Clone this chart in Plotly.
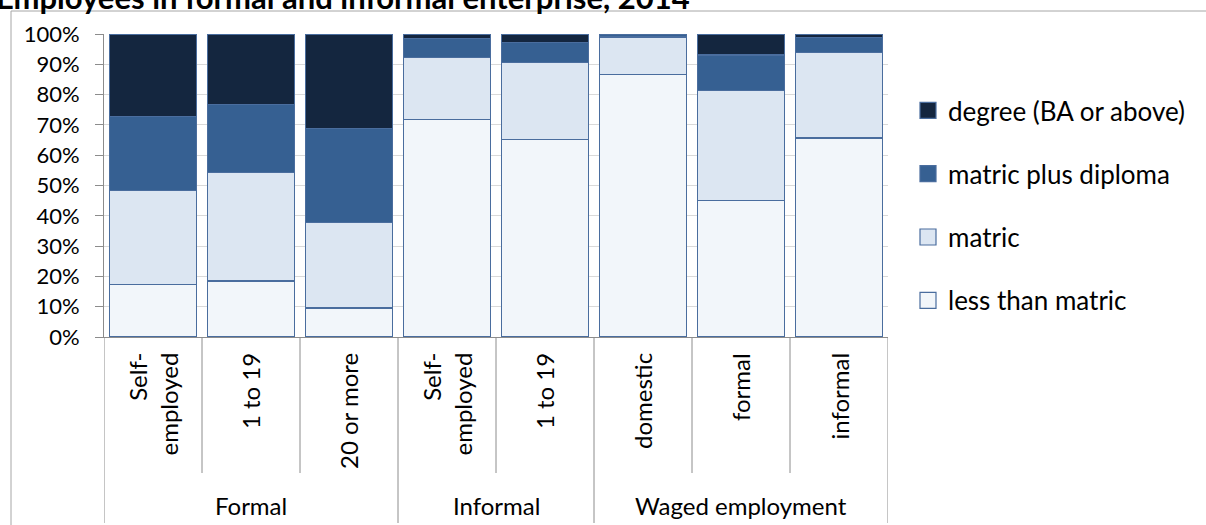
import plotly.graph_objects as go

groups = ["Formal", "Formal", "Formal", "Informal", "Informal",
          "Waged employment", "Waged employment", "Waged employment"]
subcats = ["Self-<br>employed", "1 to 19", "20 or more", "Self-<br>employed",
           "1 to 19", "domestic", "formal", "informal"]
y_ticks = [0, 10, 20, 30, 40, 50, 60, 70, 80, 90, 100]

less_than_matric = [17.3, 18.5, 9.6, 71.7, 65.2, 86.6, 45.0, 65.7]
matric = [31.0, 35.9, 28.3, 20.5, 25.3, 12.4, 36.4, 28.3]
matric_plus_diploma = [24.5, 22.4, 30.9, 6.3, 6.6, 0.8, 11.7, 4.8]
degree = [27.2, 23.2, 31.2, 1.5, 2.9, 0.2, 6.9, 1.2]

series = [
    ("less than matric", less_than_matric, "#f2f6fa"),
    ("matric", matric, "#dce6f2"),
    ("matric plus diploma", matric_plus_diploma, "#366092"),
    ("degree (BA or above)", degree, "#14263f"),
]
EDGE = "#4a6d9e"
FONT = "Lato"
idx = list(range(len(subcats)))

fig = go.Figure()
for name, vals, col in series:
    fig.add_trace(go.Bar(
        x=idx, y=vals, name=name, showlegend=False,
        marker=dict(color=col, line=dict(color=EDGE, width=1.2)),
        hoverinfo="skip",
    ))
# legend entries (larger square swatches), listed top to bottom
for rank, (name, vals, col) in enumerate(reversed(series)):
    fig.add_trace(go.Scatter(
        x=[None], y=[None], mode="markers", name=name,
        legendgroup="lg%d" % rank, legendrank=rank + 1,
        marker=dict(symbol="square", size=16, color=col,
                    line=dict(color=EDGE, width=1.2)),
    ))

W, H = 1206, 525
ml, mr, mt, mb = 104, 318, 34, 188
pw, ph = W - ml - mr, H - mt - mb


def py(pix):
    """page pixel row -> paper y"""
    return 1 - (pix - mt) / ph


def px(pix):
    return (pix - ml) / pw


fig.update_layout(
    width=W, height=H,
    margin=dict(l=ml, r=mr, t=mt, b=mb),
    barmode="stack", bargap=0.115,
    plot_bgcolor="white", paper_bgcolor="white",
    font=dict(family=FONT, size=22, color="black"),
    legend=dict(x=px(908), xanchor="left", y=py(87), yanchor="top",
                traceorder="grouped", tracegroupgap=26.5, itemsizing="trace",
                font=dict(family=FONT, size=26, color="black"),
                bgcolor="rgba(0,0,0,0)"),
    showlegend=True,
)

fig.update_yaxes(range=[0, 100], tickmode="array", tickvals=y_ticks,
                 ticktext=["%d%%" % v for v in y_ticks],
                 showgrid=True, gridcolor="#d9d9d9", gridwidth=1,
                 ticks="outside", ticklen=8, tickcolor="#8c8c8c", ticklabelstandoff=11,
                 showline=True, linecolor="#8c8c8c", linewidth=1,
                 tickfont=dict(family=FONT, size=22, color="black"), zeroline=False)
fig.update_xaxes(range=[-0.5, len(subcats) - 0.5], showticklabels=False, showgrid=False,
                 showline=True, linecolor="#8c8c8c", linewidth=1, zeroline=False)

# title (partly above the page edge, as in the source)
fig.add_annotation(text="<b>Employees in formal and informal enterprise, 2014</b>",
                   xref="paper", yref="paper", x=px(-6), y=py(-3),
                   xanchor="left", yanchor="middle", showarrow=False,
                   font=dict(family=FONT, size=31, color="black"))

# divider lines below the axis
for b in range(len(subcats) + 1):
    pos = b - 0.5
    is_group_edge = b == 0 or b == len(subcats) or groups[b] != groups[b - 1]
    fig.add_shape(type="line", xref="x", yref="paper", x0=pos, x1=pos,
                  y0=0, y1=py(523) if is_group_edge else py(473),
                  line=dict(color="#8c8c8c", width=1))

# inner category labels (rotated, aligned to the top)
for i, lab in enumerate(subcats):
    fig.add_annotation(x=i, xref="x", y=py(351), yref="paper",
                       text=lab, textangle=-90, showarrow=False,
                       xanchor="center", yanchor="top", align="right",
                       font=dict(family=FONT, size=24, color="black"))

# group labels
seen = []
for g in groups:
    if g not in seen:
        seen.append(g)
for g in seen:
    members = [i for i, gg in enumerate(groups) if gg == g]
    center = (members[0] + members[-1]) / 2
    fig.add_annotation(x=center, xref="x", y=py(505), yref="paper",
                       text=g, showarrow=False, xanchor="center", yanchor="middle",
                       font=dict(family=FONT, size=24, color="black"))

# chart area border
fig.add_shape(type="rect", xref="paper", yref="paper",
              x0=px(11), x1=px(W + 5), y0=py(H + 5), y1=py(11),
              line=dict(color="#a6a6a6", width=1), layer="below")

fig.write_html("out.html", config={"displayModeBar": False},
               post_script="document.body.style.margin='0';")
